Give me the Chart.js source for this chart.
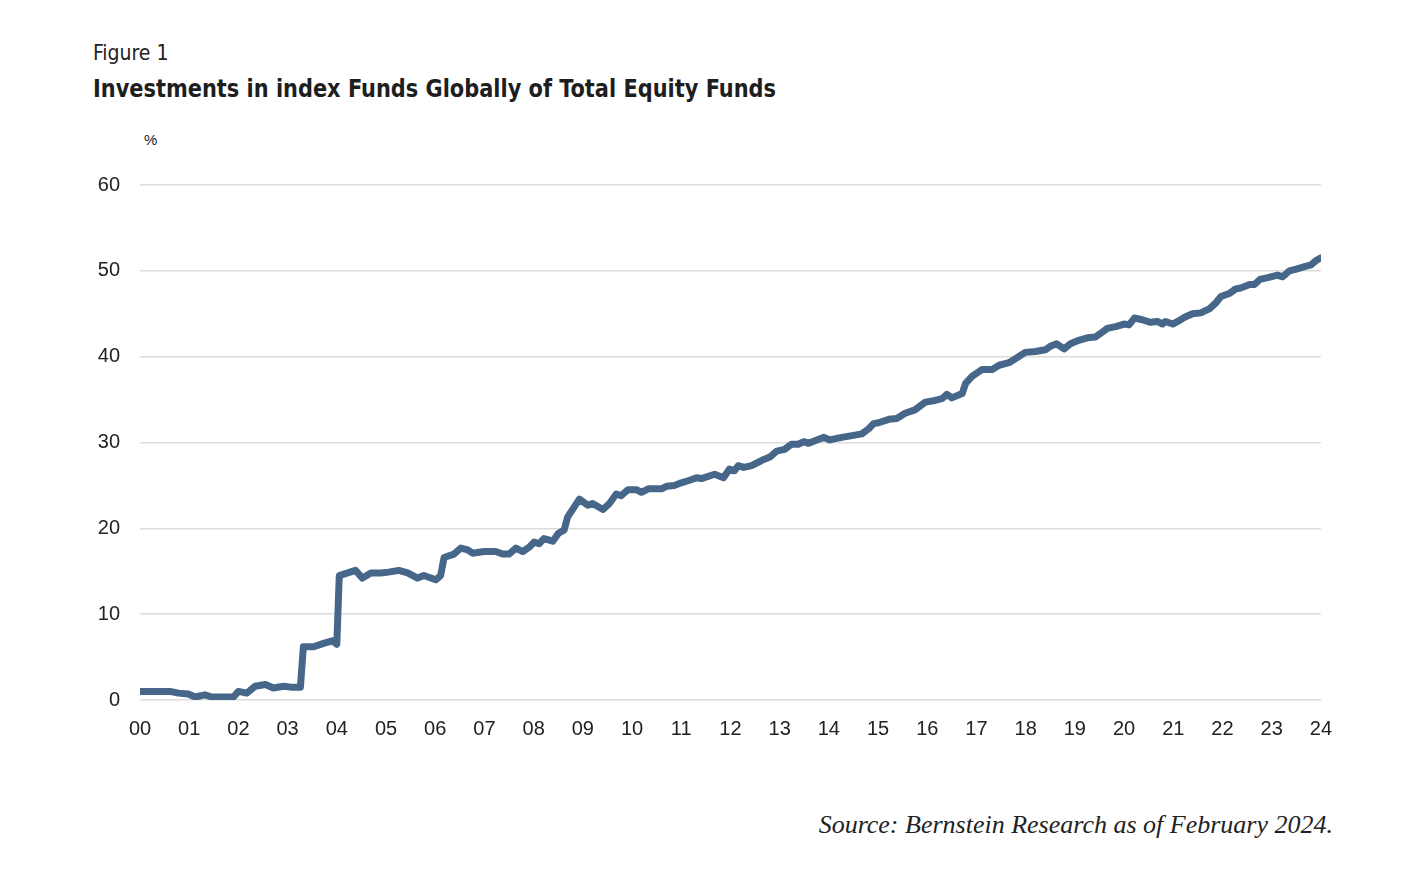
<!DOCTYPE html>
<html>
<head>
<meta charset="utf-8">
<script src="https://cdn.jsdelivr.net/npm/chart.js@4.4.1/dist/chart.umd.min.js"></script>
<style>
  body { margin: 0; background: #fff; width: 1420px; height: 882px; position: relative; overflow: hidden; }
  .fig { position: absolute; left: 93px; top: 41px; font-family: "DejaVu Sans Condensed", "DejaVu Sans"; font-stretch: condensed; font-size: 21px; color: #222; }
  .title { position: absolute; left: 93px; top: 74px; font-family: "DejaVu Sans Condensed", "DejaVu Sans"; font-stretch: condensed; font-weight: bold; font-size: 25px; color: #1e1e1e; white-space: nowrap; transform: scaleX(0.93); transform-origin: left top; }
  .unit { position: absolute; left: 144px; top: 131px; font-family: "Liberation Sans", Arial; font-size: 15px; color: #222; }
  .source { position: absolute; right: 87px; top: 810px; font-family: "Liberation Serif", serif; font-style: italic; font-size: 26px; color: #222; white-space: nowrap; }
  #wrap { position: absolute; left: 90px; top: 153px; width: 1251px; height: 597px; }
</style>
</head>
<body>
<div class="fig">Figure 1</div>
<div class="title">Investments in index Funds Globally of Total Equity Funds</div>
<div class="unit">%</div>
<div id="wrap"><canvas id="myChart"></canvas></div>
<div class="source">Source: Bernstein Research as of February 2024.</div>
<script>
// time in years since 2000
const years = [
  0, 0.61, 0.78, 0.98, 1.12, 1.32, 1.46, 1.9, 2.0, 2.17,
  2.34, 2.55, 2.71, 2.92, 3.06, 3.26, 3.32, 3.53, 3.73, 3.91,
  4.0, 4.05, 4.38, 4.52, 4.69, 4.89, 5.05, 5.26, 5.44, 5.64,
  5.77, 6.01, 6.11, 6.18, 6.38, 6.52, 6.66, 6.76, 6.99, 7.23,
  7.37, 7.5, 7.64, 7.78, 7.91, 8.01, 8.11, 8.21, 8.39, 8.5,
  8.62, 8.69, 8.93, 9.1, 9.2, 9.41, 9.54, 9.68, 9.78, 9.92,
  10.09, 10.19, 10.33, 10.6, 10.7, 10.86, 11.0, 11.17, 11.31, 11.41,
  11.68, 11.86, 11.98, 12.08, 12.16, 12.27, 12.43, 12.63, 12.8, 12.94,
  13.1, 13.24, 13.38, 13.49, 13.59, 13.9, 14.02, 14.26, 14.47, 14.67,
  14.81, 14.91, 15.01, 15.22, 15.38, 15.55, 15.75, 15.96, 16.16, 16.3,
  16.4, 16.5, 16.71, 16.78, 16.91, 17.11, 17.32, 17.46, 17.66, 17.83,
  17.99, 18.2, 18.4, 18.5, 18.63, 18.78, 18.91, 19.08, 19.25, 19.42,
  19.52, 19.66, 19.83, 20.0, 20.1, 20.21, 20.37, 20.54, 20.68, 20.78,
  20.84, 20.99, 21.09, 21.23, 21.39, 21.56, 21.74, 21.87, 21.97, 22.15,
  22.27, 22.37, 22.55, 22.65, 22.76, 22.92, 23.12, 23.22, 23.36, 23.5,
  23.67, 23.8, 23.9, 24.0
];
// share of index funds in total equity funds, %
const share = [
  1.0, 1.0, 0.8, 0.7, 0.35, 0.6, 0.35, 0.35, 1.0, 0.8,
  1.6, 1.8, 1.4, 1.6, 1.5, 1.5, 6.2, 6.2, 6.6, 6.9,
  6.5, 14.5, 15.1, 14.2, 14.8, 14.8, 14.9, 15.1, 14.8, 14.2,
  14.5, 14.0, 14.5, 16.6, 17.0, 17.7, 17.5, 17.1, 17.3, 17.3,
  17.0, 17.0, 17.7, 17.3, 17.8, 18.4, 18.2, 18.8, 18.5, 19.4,
  19.8, 21.3, 23.4, 22.7, 22.9, 22.2, 22.9, 24.0, 23.8, 24.5,
  24.5, 24.2, 24.6, 24.6, 24.9, 25.0, 25.3, 25.6, 25.9, 25.8,
  26.3, 25.9, 26.9, 26.7, 27.3, 27.1, 27.3, 27.9, 28.3, 29.0,
  29.2, 29.8, 29.8, 30.1, 29.9, 30.6, 30.3, 30.6, 30.8, 31.0,
  31.6, 32.2, 32.3, 32.7, 32.8, 33.4, 33.8, 34.7, 34.9, 35.1,
  35.6, 35.2, 35.7, 36.9, 37.7, 38.5, 38.5, 39.0, 39.3, 39.9,
  40.5, 40.6, 40.8, 41.2, 41.5, 40.9, 41.5, 41.9, 42.2, 42.3,
  42.7, 43.3, 43.5, 43.8, 43.7, 44.5, 44.3, 44.0, 44.1, 43.8,
  44.1, 43.8, 44.1, 44.6, 45.0, 45.1, 45.6, 46.3, 47.0, 47.4,
  47.9, 48.0, 48.4, 48.4, 49.0, 49.2, 49.5, 49.3, 50.0, 50.2,
  50.5, 50.7, 51.2, 51.5
];
const xTicks = [0, 1, 2, 3, 4, 5, 6, 7, 8, 9, 10, 11, 12, 13, 14, 15, 16, 17, 18, 19, 20, 21, 22, 23, 24];
const yTicks = [0, 10, 20, 30, 40, 50, 60];

const points = years.map((x, i) => ({ x: x, y: share[i] }));
const tickFont = { family: "'Liberation Sans', Arial", size: 20 };

const ctx = document.getElementById("myChart").getContext("2d");
new Chart(ctx, {
  type: "line",
  data: {
    datasets: [{
      data: points,
      borderColor: "rgb(71, 103, 138)",
      borderWidth: 7,
      borderJoinStyle: "round",
      borderCapStyle: "round",
      pointRadius: 0,
      tension: 0,
      fill: false
    }]
  },
  options: {
    responsive: true,
    maintainAspectRatio: false,
    animation: false,
    layout: { padding: { top: 10, right: 10, left: 0, bottom: 0 } },
    plugins: { legend: { display: false }, tooltip: { enabled: false } },
    scales: {
      x: {
        type: "linear",
        min: 0,
        max: 24,
        grid: { display: false },
        border: { display: false },
        afterBuildTicks: (s) => { s.ticks = xTicks.map((v) => ({ value: v })); },
        afterFit: (s) => { s.height = 50; },
        ticks: {
          padding: 9,
          color: "#222",
          font: tickFont,
          maxRotation: 0,
          autoSkip: false,
          callback: (v) => String(v).padStart(2, "0")
        }
      },
      y: {
        min: 0,
        max: 60,
        grid: { color: "#dcdcdc", lineWidth: 1.5, drawTicks: false },
        border: { display: false },
        afterBuildTicks: (s) => { s.ticks = yTicks.map((v) => ({ value: v })); },
        afterFit: (s) => { s.width = 50; },
        ticks: { padding: 20, color: "#222", font: tickFont }
      }
    }
  }
});
</script>
</body>
</html>
